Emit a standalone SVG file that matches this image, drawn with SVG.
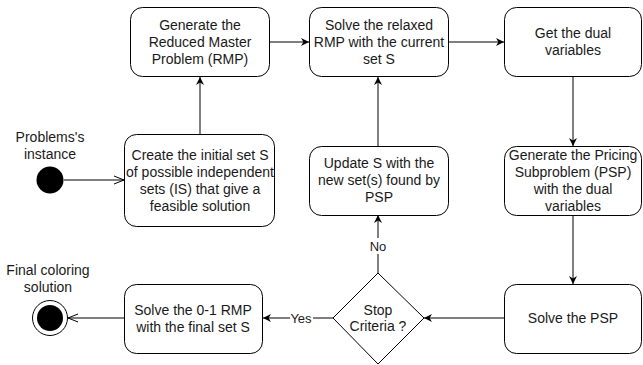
<svg xmlns="http://www.w3.org/2000/svg" width="643" height="365" viewBox="0 0 643 365">
<style>
.box{fill:#fff;stroke:#000;stroke-width:1}
.t{font-family:"Liberation Sans",Arial,sans-serif;font-size:14px;fill:#1a1a1a;text-anchor:middle}
.lbl{font-family:"Liberation Sans",Arial,sans-serif;font-size:13px;fill:#1a1a1a;text-anchor:middle}
.c{fill:none;stroke:#000;stroke-width:1}
</style>
<defs>
<marker id="arr" viewBox="0 0 10 10" refX="10" refY="5" markerWidth="8" markerHeight="8" markerUnits="userSpaceOnUse" orient="auto">
<path d="M0,0 L10,5 L0,10 L3,5 z" fill="#000"/>
</marker>
<marker id="open" viewBox="0 0 10 10" refX="10" refY="5" markerWidth="10" markerHeight="10" markerUnits="userSpaceOnUse" orient="auto">
<path d="M0,1 L10,5 L0,9" fill="none" stroke="#000" stroke-width="1"/>
</marker>
</defs>
<rect width="643" height="365" fill="#fff"/>
<g id="connectors">
<line class="c" x1="64" y1="180" x2="124" y2="180" marker-end="url(#open)"/>
<line class="c" x1="200" y1="134" x2="200" y2="77" marker-end="url(#arr)"/>
<line class="c" x1="269" y1="42" x2="309" y2="42" marker-end="url(#arr)"/>
<line class="c" x1="448" y1="42" x2="504" y2="42" marker-end="url(#arr)"/>
<line class="c" x1="573" y1="77" x2="573" y2="146" marker-end="url(#arr)"/>
<line class="c" x1="573" y1="215" x2="573" y2="284" marker-end="url(#arr)"/>
<line class="c" x1="504" y1="318" x2="424" y2="318" marker-end="url(#arr)"/>
<line class="c" x1="378" y1="273" x2="378" y2="215" marker-end="url(#arr)"/>
<line class="c" x1="378" y1="146" x2="378" y2="77" marker-end="url(#arr)"/>
<line class="c" x1="333" y1="318" x2="263" y2="318" marker-end="url(#arr)"/>
<line class="c" x1="124" y1="318" x2="68" y2="318" marker-end="url(#open)"/>
<rect x="369" y="238" width="18" height="16" fill="#fff"/>
<text class="lbl" x="378" y="251">No</text>
<rect x="290" y="311" width="23" height="15" fill="#fff"/>
<text class="lbl" x="301" y="323">Yes</text>
</g>
<g id="start">
<circle cx="50" cy="180" r="13.5" fill="#000"/>
<text class="t" x="50" y="142">Problems's</text>
<text class="t" x="50" y="159">instance</text>
</g>
<g id="end">
<circle cx="50" cy="318" r="17.5" fill="#fff" stroke="#000" stroke-width="1"/>
<circle cx="50" cy="318" r="13" fill="#000"/>
<text class="t" x="48" y="275">Final coloring</text>
<text class="t" x="48" y="292">solution</text>
</g>
<g id="create">
<rect class="box" x="124.5" y="134.5" width="150" height="92" rx="12"/>
<text class="t" x="200" y="160">Create the initial set S</text>
<text class="t" x="200" y="177">of possible independent</text>
<text class="t" x="200" y="194">sets (IS) that give a</text>
<text class="t" x="200" y="211">feasible solution</text>
</g>
<g id="generate-rmp">
<rect class="box" x="130.5" y="7.5" width="139" height="69" rx="12"/>
<text class="t" x="200" y="30">Generate the</text>
<text class="t" x="200" y="47">Reduced Master</text>
<text class="t" x="200" y="64">Problem (RMP)</text>
</g>
<g id="solve-relaxed">
<rect class="box" x="309.5" y="7.5" width="139" height="69" rx="12"/>
<text class="t" x="379" y="30">Solve the relaxed</text>
<text class="t" x="379" y="47">RMP with the current</text>
<text class="t" x="379" y="64">set S</text>
</g>
<g id="dual">
<rect class="box" x="504.5" y="7.5" width="137" height="69" rx="12"/>
<text class="t" x="573" y="38">Get the dual</text>
<text class="t" x="573" y="55">variables</text>
</g>
<g id="generate-psp">
<rect class="box" x="504.5" y="146.5" width="137" height="69" rx="12"/>
<text class="t" x="573" y="160">Generate the Pricing</text>
<text class="t" x="573" y="177">Subproblem (PSP)</text>
<text class="t" x="573" y="194">with the dual</text>
<text class="t" x="573" y="211">variables</text>
</g>
<g id="update">
<rect class="box" x="309.5" y="146.5" width="139" height="69" rx="12"/>
<text class="t" x="379" y="168">Update S with the</text>
<text class="t" x="379" y="185">new set(s) found by</text>
<text class="t" x="379" y="202">PSP</text>
</g>
<g id="solve-psp">
<rect class="box" x="504.5" y="284.5" width="137" height="69" rx="12"/>
<text class="t" x="573" y="323">Solve the PSP</text>
</g>
<g id="stop">
<polygon class="box" points="378,273 424,318 378,364 333,318"/>
<text class="t" x="378" y="315">Stop</text>
<text class="t" x="378" y="331">Criteria ?</text>
</g>
<g id="solve-01">
<rect class="box" x="124.5" y="284.5" width="138" height="69" rx="12"/>
<text class="t" x="193" y="315">Solve the 0-1 RMP</text>
<text class="t" x="193" y="332">with the final set S</text>
</g>
</svg>
